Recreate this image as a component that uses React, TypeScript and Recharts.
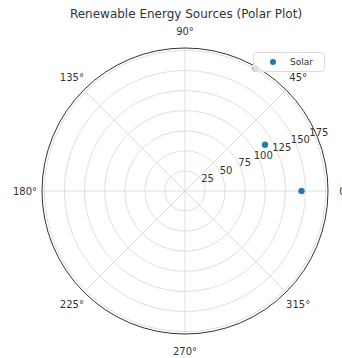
import { RadarChart, Radar, PolarGrid, PolarAngleAxis, PolarRadiusAxis, Customized } from 'recharts';

const thetaDeg = [0, 30, 60];
const solar = [145, 115, 176];
const angleTicks = [0, 45, 90, 135, 180, 225, 270, 315];
const radiusTicks = [25, 50, 75, 100, 125, 150, 175];
const rMax = 178;

const data = thetaDeg.map((t, i) => ({ theta: t, solar: solar[i] }));

const CX = 185;
const CY = 191;
const R = 143;
const FONT = '"DejaVu Sans", sans-serif';

const AngleTick = (props: any) => (
  <text x={props.x} y={props.y} textAnchor="middle" dominantBaseline="central" fontSize={10} fontFamily={FONT} fill="#333">
    {props.payload.value}°
  </text>
);

const RadiusTick = (props: any) => (
  <text x={props.x + 4} y={props.y - 5} textAnchor="middle" dominantBaseline="central" fontSize={10} fontFamily={FONT} fill="#333">
    {props.payload.value}
  </text>
);

const LegendBox = () => (
  <div style={{ position: 'absolute', left: 253, top: 52, width: 72, height: 20, boxSizing: 'border-box', border: '1px solid #ddd', borderRadius: 3, background: 'rgba(255,255,255,0.8)', display: 'flex', alignItems: 'center', fontFamily: FONT, fontSize: 9, color: '#333' }}>
    <span style={{ width: 6, height: 6, borderRadius: 3, background: '#1f77b4', marginLeft: 16, marginRight: 14 }}></span>
    <span>Solar</span>
  </div>
);

export default function App() {
  return (
    <div style={{ position: 'absolute', left: 0, top: 0, width: 342, height: 358, background: '#fff' }}>
      <div style={{ position: 'absolute', left: 0, top: 7, width: 372, textAlign: 'center', fontFamily: FONT, fontSize: 12, color: '#333' }}>
        Renewable Energy Sources (Polar Plot)
      </div>
      <RadarChart width={342} height={358} data={data} cx={CX} cy={CY} outerRadius={R} startAngle={0} endAngle={360} margin={{ top: 0, right: 0, bottom: 0, left: 0 }} style={{ position: 'absolute', left: 0, top: 0 }}>
        <PolarGrid gridType="circle" stroke="#d6d6d6" strokeWidth={0.8} />
        <PolarAngleAxis dataKey="theta" type="number" domain={[0, 360]} ticks={angleTicks} tick={<AngleTick />} tickSize={17} tickLine={false} axisLine={false} />
        <PolarRadiusAxis angle={22.5} type="number" domain={[0, rMax]} ticks={radiusTicks} tick={<RadiusTick />} tickLine={false} axisLine={false} />
        <Customized component={() => <circle cx={CX} cy={CY} r={R} fill="none" stroke="#333" strokeWidth={1} />} />
        <Radar dataKey="solar" name="Solar" stroke="none" fill="none" isAnimationActive={false} dot={{ r: 3, fill: '#1f77b4', stroke: '#1f77b4', fillOpacity: 1, strokeWidth: 0.5 }} />
      </RadarChart>
      <LegendBox />
    </div>
  );
}
